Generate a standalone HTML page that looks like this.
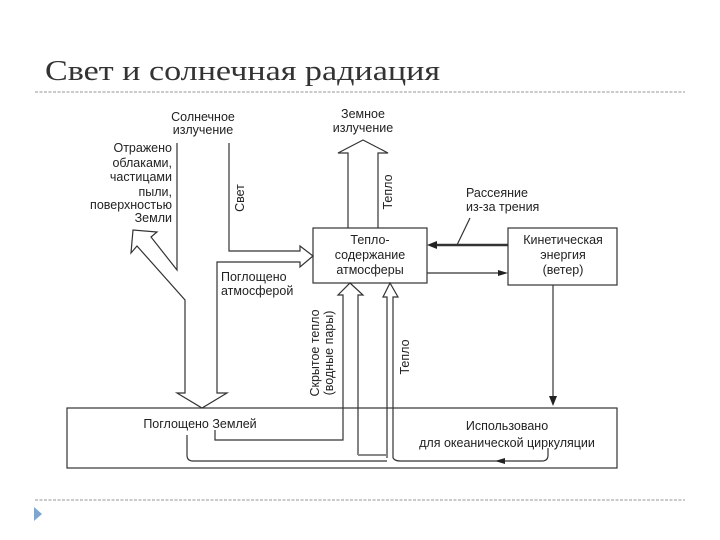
<!DOCTYPE html>
<html><head><meta charset="utf-8"><style>
html,body{margin:0;padding:0;background:#fff;}
svg{display:block;}
text{font-family:"Liberation Sans",sans-serif;fill:#222;font-size:12.5px;}
</style></head><body>
<svg width="720" height="540" viewBox="0 0 720 540" xmlns="http://www.w3.org/2000/svg">
<text x="45" y="80" style="font-family:'Liberation Serif',serif;font-size:28px;fill:#333" textLength="395" lengthAdjust="spacingAndGlyphs">Свет и солнечная радиация</text>
<line x1="35" y1="92" x2="685" y2="92" stroke="#aaa" stroke-width="1.2" stroke-dasharray="3,1.5"/>
<line x1="35" y1="500" x2="685" y2="500" stroke="#aaa" stroke-width="1.2" stroke-dasharray="3,1.5"/>
<polygon points="34,507 34,521 42,514" fill="#7ea6cf"/>

<g fill="none" stroke="#333" stroke-width="1.2">
<rect x="313" y="228" width="114" height="55"/>
<rect x="508" y="228" width="109" height="57"/>
<rect x="67" y="408" width="550" height="60"/>
<polyline points="177,143 177,270 151,237 157,232 133,230 131,253 137,246 185,300 185,393 177,393 202,408 227,393 217,393 217,262 300,262 300,267 313,256 300,246 300,251 229,251 229,143"/>
<polyline points="348,228 348,153 338,153 363,140 388,153 378,153 378,228"/>
<line x1="508" y1="245" x2="435" y2="245" stroke-width="2.5"/>
<line x1="457" y1="245" x2="470" y2="218"/>
<line x1="427" y1="273" x2="500" y2="273"/>
<line x1="553" y1="285" x2="553" y2="398"/>
<polyline points="215,430 215,440 343,440 343,295 338,295 350,283 363,295 358,295 358,455"/>
<polyline points="387,458 387,297 383,297 390,283 398,297 393,297 393,458"/>
<line x1="358" y1="455" x2="387" y2="455" stroke="#888" stroke-width="2"/>
<path d="M187,435 L187,455 Q187,461 193,461 L387,461"/>
<path d="M393,458 Q395,461 400,461 L542,461 Q548,461 548,455 L548,448"/>
</g>
<polygon points="427,245 437,241 437,249" fill="#222"/>
<polygon points="508,273 498,270 498,276" fill="#222"/>
<polygon points="553,406 549,396 557,396" fill="#222"/>
<polygon points="495,461 505,458 505,464" fill="#222"/>

<text x="203" y="121" text-anchor="middle">Солнечное</text>
<text x="203" y="134" text-anchor="middle">излучение</text>
<g text-anchor="end">
<text x="172" y="152">Отражено</text>
<text x="172" y="167">облаками,</text>
<text x="172" y="181">частицами</text>
<text x="172" y="196">пыли,</text>
<text x="172" y="209">поверхностью</text>
<text x="172" y="222">Земли</text>
</g>
<text transform="translate(244,198) rotate(-90)" text-anchor="middle">Свет</text>
<text x="221" y="281">Поглощено</text>
<text x="221" y="295">атмосферой</text>
<text x="363" y="118" text-anchor="middle">Земное</text>
<text x="363" y="132" text-anchor="middle">излучение</text>
<text transform="translate(392,192) rotate(-90)" text-anchor="middle">Тепло</text>
<text x="466" y="197">Рассеяние</text>
<text x="466" y="211">из-за трения</text>
<text x="370" y="244" text-anchor="middle">Тепло-</text>
<text x="370" y="259" text-anchor="middle">содержание</text>
<text x="370" y="274" text-anchor="middle">атмосферы</text>
<text x="563" y="244" text-anchor="middle">Кинетическая</text>
<text x="563" y="259" text-anchor="middle">энергия</text>
<text x="563" y="274" text-anchor="middle">(ветер)</text>
<text transform="translate(319,353) rotate(-90)" text-anchor="middle">Скрытое тепло</text>
<text transform="translate(333,353) rotate(-90)" text-anchor="middle">(водные пары)</text>
<text transform="translate(409,357) rotate(-90)" text-anchor="middle">Тепло</text>
<text x="200" y="428" text-anchor="middle">Поглощено Землей</text>
<text x="507" y="430" text-anchor="middle">Использовано</text>
<text x="507" y="447" text-anchor="middle">для океанической циркуляции</text>
</svg>
</body></html>
